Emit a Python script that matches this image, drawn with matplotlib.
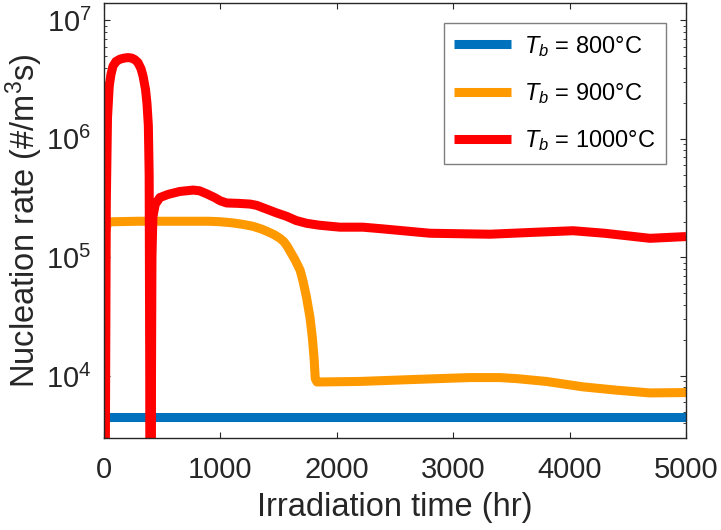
import matplotlib
matplotlib.use("Agg")
import matplotlib.pyplot as plt

plt.rcParams['font.family'] = ['Liberation Sans', 'DejaVu Sans']
plt.rcParams['mathtext.fontset'] = 'custom'
plt.rcParams['mathtext.rm'] = 'Liberation Sans'
plt.rcParams['mathtext.it'] = 'Liberation Sans:italic'
plt.rcParams['mathtext.default'] = 'regular'

# --- data ---
t_800 = [0, 5000]
n_800 = [4.55e3, 4.55e3]

t_900 = [0, 5, 30, 70, 300, 600, 900, 1000, 1100, 1195, 1280, 1350, 1400, 1460,
         1512, 1545, 1575, 1605, 1640, 1685, 1710, 1740, 1770, 1790, 1805, 1815, 1830,
         2200, 2600, 3000, 3144, 3400, 3548, 3800, 4115, 4400, 4690, 5000]
n_900 = [1, 1.5e5, 1.97e5, 2.0e5, 2.02e5, 2.02e5, 2.02e5, 2.0e5, 1.96e5, 1.9e5,
         1.83e5, 1.74e5, 1.66e5, 1.56e5, 1.45e5, 1.36e5, 1.24e5, 1.1e5, 9.6e4, 7.8e4,
         6.3e4, 4.6e4, 3.1e4, 2.1e4, 1.4e4, 9.5e3, 8.9e3, 9.0e3, 9.3e3, 9.6e3,
         9.7e3, 9.7e3, 9.5e3, 9.0e3, 8.1e3, 7.6e3, 7.2e3, 7.25e3]

t_1000 = [0, 12, 20, 30, 45, 60, 77, 103, 137, 172, 206, 240, 266, 292, 318, 335,
          357, 369, 381, 388, 393, 397, 404, 408, 412, 420, 440, 480, 550, 650, 765,
          820, 880, 950, 1000, 1054, 1150, 1254, 1312, 1400, 1480, 1570, 1650, 1741,
          1850, 2027, 2225, 2400, 2800, 3316, 3700, 4030, 4300, 4690, 5000]
n_1000 = [1, 3e3, 3e5, 1.5e6, 2.8e6, 3.5e6, 4.1e6, 4.5e6, 4.7e6, 4.8e6, 4.85e6,
          4.8e6, 4.65e6, 4.4e6, 3.9e6, 3.4e6, 2.6e6, 2e6, 1.3e6, 5e5, 1e4, 1, 1,
          1e4, 1e5, 2.2e5, 2.8e5, 3.2e5, 3.4e5, 3.6e5, 3.7e5, 3.65e5, 3.45e5, 3.2e5,
          3.0e5, 2.88e5, 2.86e5, 2.82e5, 2.75e5, 2.55e5, 2.38e5, 2.22e5, 2.05e5,
          1.94e5, 1.87e5, 1.8e5, 1.8e5, 1.74e5, 1.6e5, 1.57e5, 1.63e5, 1.68e5,
          1.6e5, 1.45e5, 1.5e5]

labels = [r'$\mathit{T}_{\mathit{b}}$ = 800°C',
          r'$\mathit{T}_{\mathit{b}}$ = 900°C',
          r'$\mathit{T}_{\mathit{b}}$ = 1000°C']
colors = ['#0072BD', '#FF9900', '#FF0000']

fig = plt.figure(figsize=(7.21, 5.30), dpi=100)
ax = fig.add_axes([104 / 721, 1 - 438 / 530, 582 / 721, 435 / 530])

for t, n, lab, c in zip([t_800, t_900, t_1000], [n_800, n_900, n_1000], labels, colors):
    ax.plot(t, n, color=c, lw=6.5, label=lab, solid_joinstyle='round',
            solid_capstyle='butt')

ax.set_yscale('log')
ax.set_xlim(0, 5000)
ax.set_ylim(3e3, 1.4e7)
ax.set_xticks([0, 1000, 2000, 3000, 4000, 5000])

edge = '#262626'
for s in ax.spines.values():
    s.set_color(edge)
    s.set_linewidth(1.0)
ax.tick_params(which='both', direction='in', top=True, right=True, colors=edge,
               labelcolor='#262626', labelsize=21)
ax.tick_params(which='major', length=4.5, width=0.8)
ax.tick_params(axis='x', which='major', pad=13)
ax.tick_params(axis='y', which='major', pad=9)
ax.tick_params(which='minor', length=2.5, width=0.6)

ax.set_xlabel('Irradiation time (hr)', fontsize=23.5, color='#262626', labelpad=6)
ax.set_ylabel('Nucleation rate (#/m$^3$s)', fontsize=23.5, color='#262626', labelpad=1)

leg = ax.legend(loc='upper right', fontsize=17, handlelength=2.4, handletextpad=0.55,
                labelspacing=0.95, borderaxespad=0.85, borderpad=0.45,
                fancybox=False, framealpha=1)
leg.get_frame().set_edgecolor('#7f7f7f')
leg.get_frame().set_linewidth(1.0)

fig.savefig('out.png', dpi=100)
